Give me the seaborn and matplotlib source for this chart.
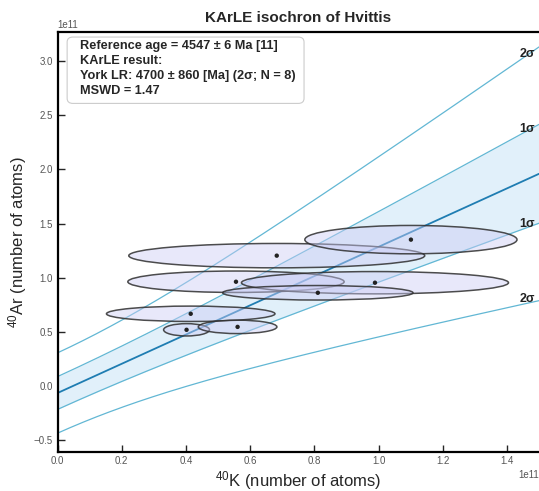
import numpy as np
import matplotlib
matplotlib.use("Agg")
import matplotlib.pyplot as plt
from matplotlib.patches import Ellipse, FancyBboxPatch
import seaborn as sns

# data (units of 1e11 atoms)
k40 = [0.683, 1.101, 0.556, 0.989, 0.811, 0.415, 0.402, 0.561]
ar40 = [1.204, 1.352, 0.963, 0.954, 0.861, 0.667, 0.519, 0.546]
k40_err_width = [0.922, 0.661, 0.674, 0.832, 0.593, 0.525, 0.143, 0.245]
ar40_err_height = [0.225, 0.262, 0.198, 0.206, 0.134, 0.142, 0.114, 0.124]

# York regression result and its envelopes (1e11 units)
intercept = -0.065
slope = 1.35
sigma_a_1s = 0.1516
sigma_b_1s = 0.284
cov_ab_1s = 0.0013
sigma_a_2s = 0.371
sigma_b_2s = 0.734
cov_ab_2s = 0.0078

info_lines = [
    "Reference age = 4547 ± 6 Ma [11]",
    "KArLE result:",
    "York LR: 4700 ± 860 [Ma] (2σ; N = 8)",
    "MSWD = 1.47",
]

scale = 1e11


def half_width(x, sa, sb, cov):
    return np.sqrt(sa**2 + 2 * x * cov + (x * sb) ** 2)


sns.set_theme(style="ticks")
plt.rcParams["font.family"] = ["Liberation Sans", "DejaVu Sans"]
plt.rcParams.update({
    "mathtext.fontset": "custom",
    "mathtext.rm": "Liberation Sans",
    "xtick.direction": "in",
    "ytick.direction": "in",
    "xtick.major.size": 5,
    "ytick.major.size": 5,
    "xtick.major.width": 1,
    "ytick.major.width": 1,
    "xtick.major.pad": 3,
    "axes.linewidth": 1.6,
    "axes.edgecolor": "black",
})

fig = plt.figure(figsize=(5.39, 4.91), dpi=100)
ax = fig.add_axes([0.1067, 0.0794, 0.8933, 0.8554])
ax.spines["right"].set_visible(False)

xs = np.linspace(0, 1.5, 300)
center = intercept + slope * xs
hw1 = half_width(xs, sigma_a_1s, sigma_b_1s, cov_ab_1s)
hw2 = half_width(xs, sigma_a_2s, sigma_b_2s, cov_ab_2s)

ax.fill_between(xs * scale, (center - hw1) * scale, (center + hw1) * scale,
                color="#e1f0fa", lw=0, zorder=1)
band_color = "#62b7d4"
for yy in [center + hw2, center + hw1, center - hw1, center - hw2]:
    sns.lineplot(x=xs * scale, y=yy * scale, ax=ax, color=band_color, lw=0.9, zorder=2)
sns.lineplot(x=xs * scale, y=center * scale, ax=ax, color="#1f7db2", lw=1.3, zorder=2)

# sigma labels at the right end
xl = 1.44
c_l = intercept + slope * xl
h1_l = half_width(xl, sigma_a_1s, sigma_b_1s, cov_ab_1s)
h2_l = half_width(xl, sigma_a_2s, sigma_b_2s, cov_ab_2s)
for lab, yv in [("2σ", c_l + h2_l), ("1σ", c_l + h1_l), ("1σ", c_l - h1_l), ("2σ", c_l - h2_l)]:
    ax.text(xl * scale, yv * scale, lab, fontsize=9, fontweight="bold",
            color="#222222", ha="left", va="bottom", zorder=6)

# error ellipses
for x, y, w, h in zip(k40, ar40, k40_err_width, ar40_err_height):
    e = Ellipse((x * scale, y * scale), w * scale, h * scale,
                facecolor=(0.80, 0.80, 0.96, 0.45), edgecolor=(0.18, 0.18, 0.18, 0.85),
                lw=1.1, zorder=3)
    ax.add_patch(e)

sns.scatterplot(x=np.array(k40) * scale, y=np.array(ar40) * scale, ax=ax,
                color="#222222", s=10, edgecolor="none", zorder=4)

ax.set_xlim(0, 1.5e11)
ax.set_ylim(-0.61e11, 3.27e11)
ax.set_xticks(np.arange(0, 1.41, 0.2) * scale)
ax.set_yticks(np.arange(-0.5, 3.01, 0.5) * scale)
ax.tick_params(labelsize=7, labelcolor="#555555")
for ot in [ax.xaxis.get_offset_text(), ax.yaxis.get_offset_text()]:
    ot.set_fontsize(7)
    ot.set_color("#555555")

ax.set_title("KArLE isochron of Hvittis", fontsize=11, fontweight="bold", pad=7)
ax.set_xlabel(r"$\mathregular{^{40}}$K (number of atoms)", fontsize=12, labelpad=2)
ax.set_ylabel(r"$\mathregular{^{40}}$Ar (number of atoms)", fontsize=12, labelpad=3)

# info box
box = FancyBboxPatch((0.020, 0.830), 0.492, 0.158, transform=ax.transAxes,
                     boxstyle="round,pad=0,rounding_size=0.012",
                     fc="white", ec="#cccccc", lw=0.8, zorder=7)
ax.add_patch(box)
ax.text(0.046, 0.981, "\n".join(info_lines), transform=ax.transAxes,
        fontsize=9.2, fontweight="bold", va="top", ha="left", linespacing=1.32,
        zorder=8)

fig.savefig("out.png", dpi=100)
